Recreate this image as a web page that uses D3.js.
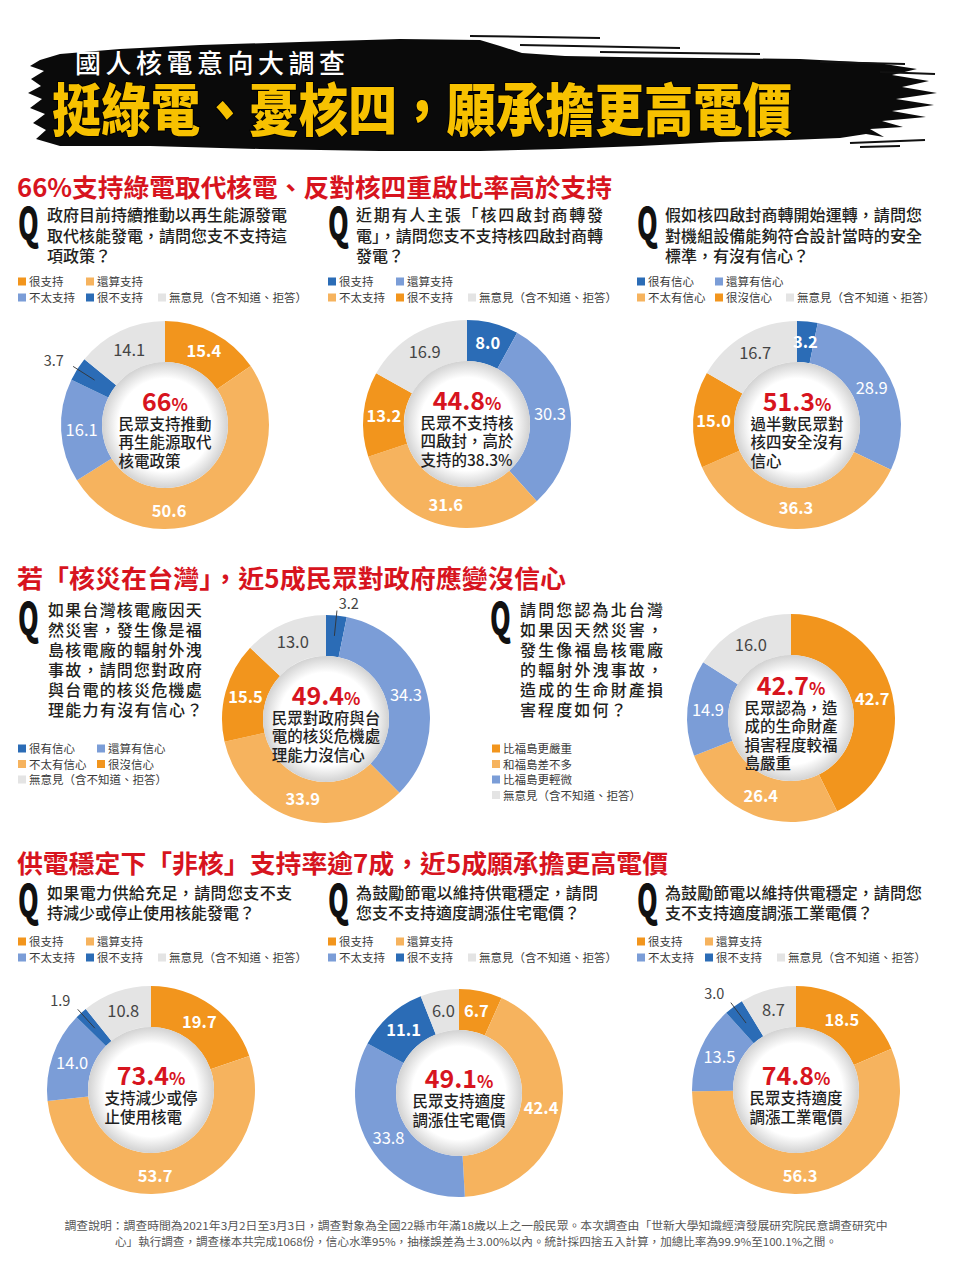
<!DOCTYPE html>
<html><head><meta charset="utf-8">
<script src="https://cdn.jsdelivr.net/npm/d3@7"></script>
<style>
html,body{margin:0;padding:0;background:#fff;}
svg{display:block;}
text{font-family:"Noto Sans CJK TC","Noto Sans CJK SC","Noto Sans",sans-serif;}
</style></head><body>
<svg id="chart" width="960" height="1279"></svg>
<script>
// ---------------- DATA ----------------
const supportCategories = ["很支持","還算支持","不太支持","很不支持","無意見（含不知道、拒答）"];
const confidenceCategories = ["很有信心","還算有信心","不太有信心","很沒信心","無意見（含不知道、拒答）"];
const damageCategories = ["比福島更嚴重","和福島差不多","比福島更輕微","無意見（含不知道、拒答）"];

const greenReplaceValues     = [15.4, 50.6, 16.1, 3.7, 14.1];
const plant4RestartValues    = [8.0, 30.3, 31.6, 13.2, 16.9];
const plant4SafetyValues     = [3.2, 28.9, 36.3, 15.0, 16.7];
const disasterResponseValues = [3.2, 34.3, 33.9, 15.5, 13.0];
const northDamageValues      = [42.7, 26.4, 14.9, 16.0];
const reduceNuclearValues    = [19.7, 53.7, 14.0, 1.9, 10.8];
const homePriceValues        = [6.7, 42.4, 33.8, 11.1, 6.0];
const industryPriceValues    = [18.5, 56.3, 13.5, 3.0, 8.7];

const headlinePercents = ["66","44.8","51.3","49.4","42.7","73.4","49.1","74.8"];

const titleSmall = "國人核電意向大調查";
const titleBig = "挺綠電、憂核四，願承擔更高電價";
const sectionTitles = [
  "66%支持綠電取代核電、反對核四重啟比率高於支持",
  "若「核災在台灣」，近5成民眾對政府應變沒信心",
  "供電穩定下「非核」支持率逾7成，近5成願承擔更高電價"
];
const questions = [
  ["政府目前持續推動以再生能源發電","取代核能發電，請問您支不支持這","項政策？"],
  ["近期有人主張「核四啟封商轉發","電」，請問您支不支持核四啟封商轉","發電？"],
  ["假如核四啟封商轉開始運轉，請問您","對機組設備能夠符合設計當時的安全","標準，有沒有信心？"],
  ["如果台灣核電廠因天","然災害，發生像是福","島核電廠的輻射外洩","事故，請問您對政府","與台電的核災危機處","理能力有沒有信心？"],
  ["請問您認為北台灣","如果因天然災害，","發生像福島核電廠","的輻射外洩事故，","造成的生命財產損","害程度如何？"],
  ["如果電力供給充足，請問您支不支","持減少或停止使用核能發電？"],
  ["為鼓勵節電以維持供電穩定，請問","您支不支持適度調漲住宅電價？"],
  ["為鼓勵節電以維持供電穩定，請問您","支不支持適度調漲工業電價？"]
];
const centerNotes = [
  ["民眾支持推動","再生能源取代","核電政策"],
  ["民眾不支持核","四啟封，高於","支持的38.3%"],
  ["過半數民眾對","核四安全沒有","信心"],
  ["民眾對政府與台","電的核災危機處","理能力沒信心"],
  ["民眾認為，造","成的生命財產","損害程度較福","島嚴重"],
  ["支持減少或停","止使用核電"],
  ["民眾支持適度","調漲住宅電價"],
  ["民眾支持適度","調漲工業電價"]
];
const footnoteLines = [
  "調查說明：調查時間為2021年3月2日至3月3日，調查對象為全國22縣市年滿18歲以上之一般民眾。本次調查由「世新大學知識經濟發展研究院民意調查研究中",
  "心」執行調查，調查樣本共完成1068份，信心水準95%，抽樣誤差為±3.00%以內。統計採四捨五入計算，加總比率為99.9%至100.1%之間。"
];

// ---------------- STYLE ----------------
const C = {DO:"#F2951D", LO:"#F6B35E", LB:"#7B9DD7", DB:"#2B6CB6", GR:"#E4E4E4"};
const warmFirst = [C.DO, C.LO, C.LB, C.DB, C.GR];
const coolFirst = [C.DB, C.LB, C.LO, C.DO, C.GR];
const damagePal = [C.DO, C.LO, C.LB, C.GR];
const RED = "#D7141E";
const R_OUT = 104, R_IN = 63;

const svg = d3.select("#chart");
const defs = svg.append("defs");
const rg = defs.append("radialGradient").attr("id","innerShade");
rg.append("stop").attr("offset","0%").attr("stop-color","#ffffff");
rg.append("stop").attr("offset","74%").attr("stop-color","#ffffff");
rg.append("stop").attr("offset","100%").attr("stop-color","#d2d2d2");

// ---------------- BANNER ----------------
const bannerPts = [[40,60],[30,66],[44,71],[31,79],[41,86],[28,93],[42,99],[30,108],[45,114],[33,123],[46,130],[36,139],[60,146],
 [150,146],[260,149],[380,151],[480,151],[560,149],[640,146],[720,142],[790,140],[840,138],[866,134],
 [884,137],[870,129],[903,127],[882,121],[926,117],[892,111],[934,105],[896,99],[937,93],[902,87],[929,81],[892,75],[917,69],[878,63],
 [800,59],[700,58],[620,57],[565,56],[522,53],[500,46],[480,40],[400,39],[300,42],[200,45],[120,49],[60,54]];
svg.append("path").attr("d", d3.line()(bannerPts) + "Z").attr("fill","#0a0a0a");
const streaks = [[[470,36],[600,38]],[[520,45],[680,48]],[[600,52],[760,54]],[[820,62],[905,64]],[[850,143],[925,140]],[[880,72],[935,74]],[[860,147],[900,146]]];
streaks.forEach(s => svg.append("path").attr("d", d3.line()(s)).attr("stroke","#111").attr("stroke-width",2).attr("fill","none"));

svg.append("text").attr("x",75).attr("y",73).attr("fill","#fff")
  .attr("font-size",26).attr("font-weight",500).attr("textLength",270).attr("lengthAdjust","spacing")
  .text(titleSmall);
svg.append("text").attr("x",52).attr("y",131).attr("fill","#F7C100")
  .attr("stroke","#000").attr("stroke-width",2).attr("paint-order","stroke")
  .attr("font-size",57).attr("font-weight",900).attr("textLength",740).attr("lengthAdjust","spacingAndGlyphs")
  .text(titleBig);

// ---------------- SECTION TITLES ----------------
const secPos = [[17,197,595],[17,588,549],[17,873,651]];
sectionTitles.forEach((t,i)=>{
  svg.append("text").attr("x",secPos[i][0]).attr("y",secPos[i][1]).attr("fill",RED)
    .attr("font-size",25).attr("font-weight",700)
    .attr("textLength",secPos[i][2]).attr("lengthAdjust","spacingAndGlyphs").text(t);
});

// ---------------- QUESTIONS ----------------
const qLayout = [
  {qx:18, qy:240, tx:47, ty:221, lh:20.5, w:240, ls:0},
  {qx:328, qy:240, tx:356, ty:221, lh:20.5, w:247, ls:0},
  {qx:637, qy:240, tx:665, ty:221, lh:20.5, w:257, ls:0},
  {qx:18, qy:635, tx:48, ty:616, lh:20, w:155, ls:1.3},
  {qx:490, qy:635, tx:520, ty:616, lh:20, w:145, ls:2.1},
  {qx:18, qy:917, tx:47, ty:899, lh:20, w:245, ls:0},
  {qx:328, qy:917, tx:356, ty:899, lh:20, w:242, ls:0},
  {qx:637, qy:917, tx:665, ty:899, lh:20, w:257, ls:0}
];
questions.forEach((lines,i)=>{
  const L = qLayout[i];
  svg.append("text").attr("transform",`translate(${L.qx},${L.qy}) scale(0.66,1.1)`)
    .attr("font-family","Roboto, 'DejaVu Sans', sans-serif").attr("font-weight",900)
    .attr("font-size",40).attr("fill","#111").text("Q");
  lines.forEach((ln,j)=>{
    const t = svg.append("text").attr("x",L.tx).attr("y",L.ty + j*L.lh)
      .attr("font-size",16).attr("font-weight",500).attr("fill","#231f20")
      .attr("letter-spacing",L.ls).text(ln);
    if (j < lines.length-1) t.attr("textLength",L.w).attr("lengthAdjust","spacing");
  });
});

// ---------------- LEGENDS ----------------
function drawLegend(x, y, cats, colors, rows, colX, rowH){
  const g = svg.append("g");
  rows.forEach((row, ri) => row.forEach((ci, k) => {
    const gx = x + colX[k], gy = y + ri*rowH;
    g.append("rect").attr("x",gx).attr("y",gy-4.5).attr("width",8).attr("height",8).attr("fill",colors[ci]);
    g.append("text").attr("x",gx+11).attr("y",gy+4).attr("font-size",11.5)
      .attr("fill","#3a3a3a").text(cats[ci]);
  }));
}
const sup2 = [[0,1],[2,3,4]];
drawLegend(18, 282, supportCategories, warmFirst, sup2, [0,68,140], 16);
drawLegend(328, 282, supportCategories, coolFirst, sup2, [0,68,140], 16);
drawLegend(637, 282, confidenceCategories, coolFirst, sup2, [0,78,149], 16);
drawLegend(18, 749, confidenceCategories, coolFirst, [[0,1],[2,3],[4]], [0,79], 15.5);
drawLegend(492, 749, damageCategories, damagePal, [[0],[1],[2],[3]], [0], 15.5);
drawLegend(18, 942, supportCategories, warmFirst, sup2, [0,68,140], 16);
drawLegend(328, 942, supportCategories, warmFirst, sup2, [0,68,140], 16);
drawLegend(637, 942, supportCategories, warmFirst, sup2, [0,68,140], 16);

// ---------------- DONUTS ----------------
const charts = [
  {values:greenReplaceValues, colors:warmFirst, cx:165, cy:425, callout:true},
  {values:plant4RestartValues, colors:coolFirst, cx:467, cy:424, callout:true},
  {values:plant4SafetyValues, colors:coolFirst, cx:797, cy:425, callout:false},
  {values:disasterResponseValues, colors:coolFirst, cx:326, cy:719, callout:true},
  {values:northDamageValues, colors:damagePal, cx:791, cy:718, callout:true},
  {values:reduceNuclearValues, colors:warmFirst, cx:151, cy:1090, callout:true},
  {values:homePriceValues, colors:warmFirst, cx:459, cy:1093, callout:true},
  {values:industryPriceValues, colors:warmFirst, cx:796, cy:1090, callout:true}
];

const pie = d3.pie().sort(null).value(d => d.v);
const arcGen = d3.arc().innerRadius(R_IN).outerRadius(R_OUT);
const R_MID = (R_IN + R_OUT)/2;

charts.forEach((ch, ci) => {
  const data = ch.values.map((v,i)=>({v, color: ch.colors[i]}));
  const arcs = pie(data);
  const g = svg.append("g").attr("transform",`translate(${ch.cx},${ch.cy})`);
  g.selectAll("path.seg").data(arcs).join("path").attr("class","seg")
    .attr("d", arcGen).attr("fill", d => d.data.color);
  g.append("circle").attr("r", R_IN).attr("fill","url(#innerShade)");

  arcs.forEach(a => {
    const v = a.data.v, col = a.data.color;
    let ang = (a.startAngle + a.endAngle)/2;
    let rr = R_MID;
    if (v > 45 && a.startAngle < Math.PI && a.endAngle > Math.PI) { ang = Math.PI * 0.985; rr = R_MID + 3; }
    const txt = v.toFixed(1);
    if (v < 5 && ch.callout) {
      const s = Math.sin(ang);
      const top = Math.abs(s) < 0.35;
      const lr = top ? R_OUT + 12 : R_OUT + 16;
      const lx = lr*Math.sin(ang), ly = -lr*Math.cos(ang);
      const anchor = top ? "start" : (s < 0 ? "end" : "start");
      g.append("line")
        .attr("x1",(R_OUT+5)*Math.sin(ang)).attr("y1",-(R_OUT+5)*Math.cos(ang))
        .attr("x2",(R_MID)*Math.sin(ang)).attr("y2",-(R_MID)*Math.cos(ang))
        .attr("stroke","#333").attr("stroke-width",0.9);
      g.append("text").attr("x", top ? lx + 1 : lx).attr("y", ly).attr("dy","0.36em").attr("text-anchor",anchor)
        .attr("font-family","Roboto, sans-serif").attr("font-size",14.5).attr("fill","#444").text(txt);
      return;
    }
    const x = rr*Math.sin(ang), y = -rr*Math.cos(ang);
    let fill = "#fff", weight = 700;
    if (col === C.GR) { fill = "#444"; weight = 400; }
    if (col === C.LB) { weight = 400; }
    g.append("text").attr("x",x).attr("y",y).attr("dy","0.36em").attr("text-anchor","middle")
      .attr("font-family","Roboto, sans-serif").attr("font-size",16.5).attr("font-weight",weight)
      .attr("fill",fill).text(txt);
  });

  // center text
  const notes = centerNotes[ci];
  const n = notes.length, lh = 18.5;
  const pctCenter = -(22 + (n-1)*lh)/2 + 6.5;
  const pt = g.append("text").attr("x",0).attr("y",pctCenter + 9).attr("text-anchor","middle")
    .attr("font-family","Roboto, sans-serif").attr("font-weight",700).attr("fill",RED);
  pt.append("tspan").attr("font-size",25).text(headlinePercents[ci]);
  pt.append("tspan").attr("font-size",17).text("%");
  const lineEls = notes.map((ln,j)=> g.append("text")
      .attr("y", pctCenter + 22 + j*lh + 5.8)
      .attr("font-size",15.5).attr("font-weight",500).attr("fill","#1f1f1f").text(ln));
  const maxW = d3.max(lineEls, e => e.node().getComputedTextLength());
  lineEls.forEach(e => e.attr("x", -maxW/2));
});

// ---------------- FOOTNOTE ----------------
const footLen = [823, 722];
footnoteLines.forEach((t,i)=>{
  svg.append("text").attr("x",476).attr("y",1230 + i*16).attr("text-anchor","middle")
    .attr("font-size",11).attr("fill","#555")
    .attr("textLength",footLen[i]).attr("lengthAdjust","spacingAndGlyphs").text(t);
});
</script>
</body></html>
